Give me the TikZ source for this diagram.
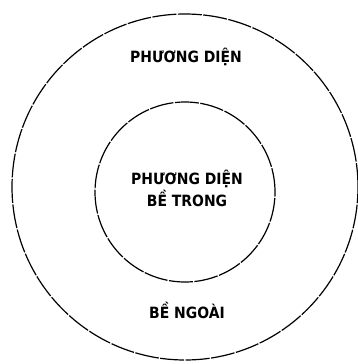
\documentclass[tikz,border=0pt]{standalone}
\usepackage{fontspec}
\setmainfont{DejaVu Sans Condensed}
\usetikzlibrary{positioning}

\begin{document}
\begin{tikzpicture}[x=1pt,y=-1pt,
 ring/.style={circle,draw=black,line width=1.2pt,dash pattern=on 24pt off 1.5pt,inner sep=0pt},
 lbl/.style={font=\bfseries\fontsize{15.5}{22}\selectfont,align=center,inner sep=0pt}]
\useasboundingbox (0,0) rectangle (357,364);
\node [ring,minimum size=346pt] (outer) at (185,187) {};
\node [ring,minimum size=180pt] (inner) at (185,192) {};
\node [lbl] (top) at (186,57) {PHƯƠNG DIỆN};
\node [lbl] (mid) at (187,188) {PHƯƠNG DIỆN\\BỀ TRONG};
\node [lbl] (bot) at (187,310) {BỀ NGOÀI};
\end{tikzpicture}
\end{document}
